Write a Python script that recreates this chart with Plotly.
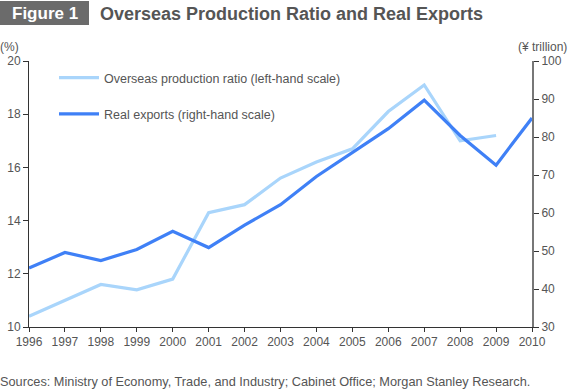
import plotly.graph_objects as go

years = list(range(1996, 2011))
overseas_ratio = [10.4, 11.0, 11.6, 11.4, 11.8, 14.3, 14.6, 15.6, 16.2, 16.7, 18.1, 19.1, 17.0, 17.2, None]
real_exports = [45.5, 49.6, 47.5, 50.4, 55.2, 50.9, 56.8, 62.2, 69.6, 75.8, 82.2, 89.7, 80.4, 72.6, 85.0]

left_ticks = [10, 12, 14, 16, 18, 20]
right_ticks = [30, 40, 50, 60, 70, 80, 90, 100]

FONT = "Liberation Sans, Arial, sans-serif"
GRAY = "#555555"

L, R, T, B = 29, 532, 61, 327
W, H = 569, 390


def px(x):
    return (x - L) / (R - L)


def py(y):
    return (B - y) / (B - T)


fig = go.Figure()
fig.add_trace(go.Scatter(
    x=years, y=overseas_ratio, mode="lines", name="Overseas production ratio (left-hand scale)",
    line=dict(color="#a9d5fb", width=3.2), legendgroup="a", yaxis="y"))
fig.add_trace(go.Scatter(
    x=years, y=real_exports, mode="lines", name="Real exports (right-hand scale)",
    line=dict(color="#3f80f6", width=3.2), legendgroup="b", yaxis="y2"))

fig.update_layout(
    template="none",
    width=W, height=H,
    margin=dict(l=L, r=W - R, t=T, b=H - B, pad=0, autoexpand=False),
    paper_bgcolor="white", plot_bgcolor="white",
    font=dict(family=FONT, size=12, color=GRAY),
    showlegend=True,
    hovermode=False,
    legend=dict(x=px(54), y=py(63), xanchor="left", yanchor="top",
                bgcolor="rgba(0,0,0,0)", tracegroupgap=17,
                font=dict(size=12.5, color=GRAY), itemwidth=40),
    xaxis=dict(range=[1996, 2010], tickvals=years, ticktext=[str(y) for y in years],
               automargin=False,
               showgrid=False, zeroline=False, showline=True, linecolor="#333333", linewidth=1,
               ticks="outside", ticklen=4, tickcolor="#333333",
               tickfont=dict(size=12, color=GRAY)),
    yaxis=dict(range=[10, 20], tickvals=left_ticks, showgrid=False, zeroline=False,
               automargin=False,
               showline=True, linecolor="#333333", linewidth=1, ticks="outside", ticklen=5,
               tickcolor="#333333", tickfont=dict(size=12, color=GRAY)),
    yaxis2=dict(range=[30, 100], tickvals=right_ticks, overlaying="y", side="right",
                automargin=False,
                showgrid=False, zeroline=False, showline=True, linecolor="#777777", linewidth=2,
                ticks="outside", ticklen=5, tickcolor="#333333",
                tickfont=dict(size=12, color=GRAY)),
)

fig.add_shape(type="rect", xref="paper", yref="paper", x0=px(0), x1=px(89), y0=py(25), y1=py(1),
              fillcolor="#6b6b6b", line=dict(width=0), layer="below")
fig.add_annotation(xref="paper", yref="paper", x=px(44.5), y=py(13), xanchor="center", yanchor="middle",
                   text="<b>Figure 1</b>", showarrow=False,
                   font=dict(family=FONT, size=17, color="white"))
fig.add_annotation(xref="paper", yref="paper", x=px(98), y=py(14), xanchor="left", yanchor="middle",
                   text="<b>Overseas Production Ratio and Real Exports</b>", showarrow=False,
                   font=dict(family=FONT, size=18, color="#555555"))
fig.add_annotation(xref="paper", yref="paper", x=px(-2), y=py(47), xanchor="left", yanchor="middle",
                   text="(%)", showarrow=False, font=dict(family=FONT, size=12, color=GRAY))
fig.add_annotation(xref="paper", yref="paper", x=px(569), y=py(47), xanchor="right", yanchor="middle",
                   text="(¥ trillion)", showarrow=False, font=dict(family=FONT, size=12, color=GRAY))
fig.add_annotation(xref="paper", yref="paper", x=px(-2), y=py(381), xanchor="left", yanchor="middle",
                   text="Sources: Ministry of Economy, Trade, and Industry; Cabinet Office; Morgan Stanley Research.",
                   showarrow=False, font=dict(family=FONT, size=12.75, color=GRAY))

fig.write_html("out.html", config={"displayModeBar": False},
               post_script="document.body.style.margin='0';document.body.style.padding='0';")
